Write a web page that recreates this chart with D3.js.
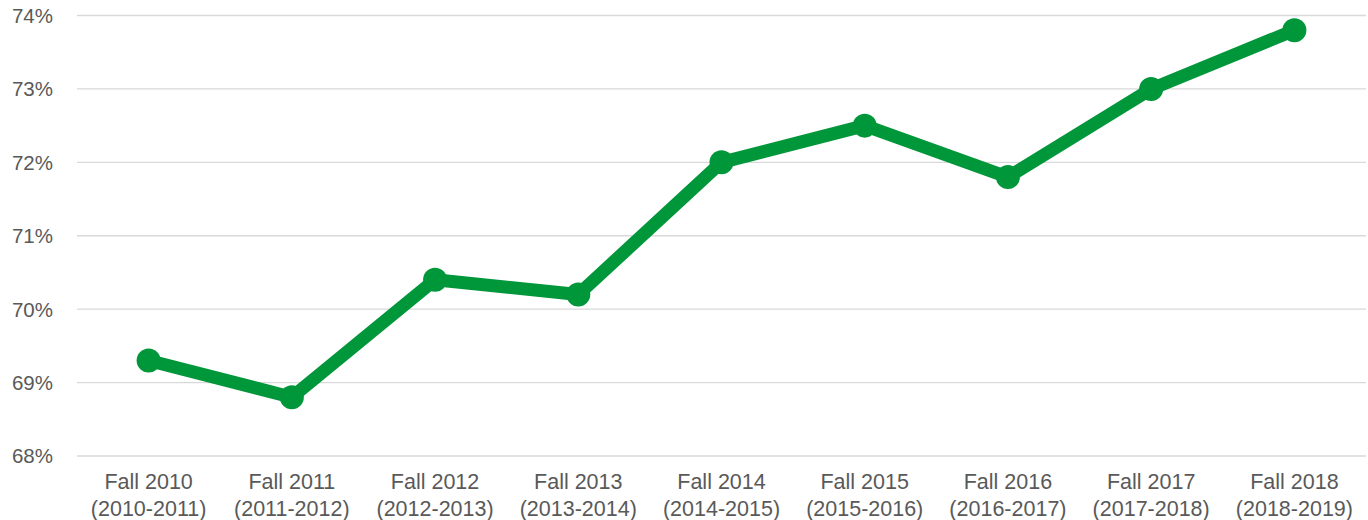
<script src="https://d3js.org/d3.v7.min.js"></script>
<style>
    body { margin: 0; background: #fff; }
    text { font-family: "Liberation Sans", Arial, sans-serif; fill: #595959; }
</style>
<div id="canvas"></div>
<script>
    const width = 1368;
    const height = 520;

    // Data
    const terms = ["Fall 2010", "Fall 2011", "Fall 2012", "Fall 2013", "Fall 2014", "Fall 2015", "Fall 2016", "Fall 2017", "Fall 2018"];
    const years = ["(2010-2011)", "(2011-2012)", "(2012-2013)", "(2013-2014)", "(2014-2015)", "(2015-2016)", "(2016-2017)", "(2017-2018)", "(2018-2019)"];
    const rates = [69.3, 68.8, 70.4, 70.2, 72.0, 72.5, 71.8, 73.0, 73.8];
    const yTicks = [68, 69, 70, 71, 72, 73, 74];

    const margin = {top: 15.5, right: 2, bottom: 64, left: 77};

    const svg = d3.select("#canvas")
        .append("svg")
        .attr("width", width)
        .attr("height", height);

    const x = d3.scaleBand()
        .domain(terms)
        .range([margin.left, width - margin.right]);

    const y = d3.scaleLinear()
        .domain([68, 74])
        .range([height - margin.bottom, margin.top]);

    // Gridlines
    svg.append("g")
        .selectAll("line")
        .data(yTicks)
        .enter()
        .append("line")
        .attr("x1", margin.left)
        .attr("x2", width - margin.right)
        .attr("y1", d => y(d))
        .attr("y2", d => y(d))
        .attr("stroke", "#d9d9d9")
        .attr("stroke-width", 1.3);

    // Y labels
    svg.append("g")
        .selectAll("text")
        .data(yTicks)
        .enter()
        .append("text")
        .attr("x", 53)
        .attr("y", d => y(d))
        .attr("dy", "0.36em")
        .attr("text-anchor", "end")
        .attr("font-size", 20.5)
        .text(d => d + "%");

    // X labels, two lines each
    const xl = svg.append("g")
        .selectAll("text")
        .data(terms)
        .enter()
        .append("text")
        .attr("text-anchor", "middle")
        .attr("font-size", 21.5);
    xl.append("tspan")
        .attr("x", d => x(d) + x.bandwidth() / 2)
        .attr("y", 489)
        .text(d => d);
    xl.append("tspan")
        .attr("x", d => x(d) + x.bandwidth() / 2)
        .attr("y", 516)
        .text((d, i) => years[i]);

    const green = "#00963a";
    const cx = (d, i) => x(terms[i]) + x.bandwidth() / 2;

    svg.append("path")
        .datum(rates)
        .attr("fill", "none")
        .attr("stroke", green)
        .attr("stroke-width", 13)
        .attr("stroke-linejoin", "round")
        .attr("d", d3.line().x(cx).y(d => y(d)));

    svg.append("g")
        .selectAll("circle")
        .data(rates)
        .enter()
        .append("circle")
        .attr("cx", cx)
        .attr("cy", d => y(d))
        .attr("r", 12)
        .attr("fill", green);
</script>
